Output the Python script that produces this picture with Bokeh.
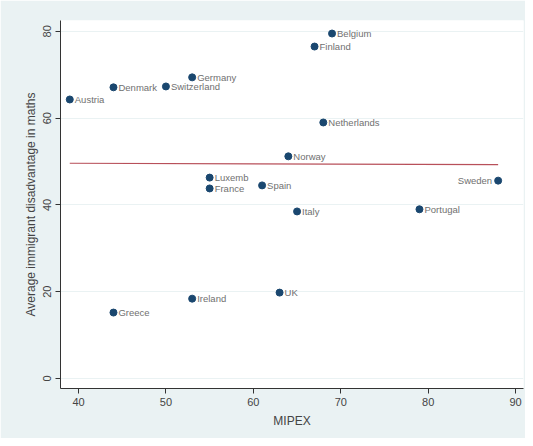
from bokeh.plotting import figure
from bokeh.models import ColumnDataSource, LabelSet, Range1d, FixedTicker
from bokeh.core.properties import value
from bokeh.embed import file_html
from bokeh.resources import INLINE

countries = ["Austria", "Denmark", "Switzerland", "Germany", "Luxemb", "France", "Spain",
             "Belgium", "Finland", "Netherlands", "Norway", "Sweden", "Italy", "Portugal",
             "UK", "Ireland", "Greece"]
mipex = [39, 44, 50, 53, 55, 55, 61, 69, 67, 68, 64, 88, 65, 79, 63, 53, 44]
disadv = [64.3, 67.1, 67.3, 69.4, 46.3, 43.8, 44.5, 79.5, 76.5, 59.0, 51.2, 45.6,
          38.5, 39.0, 19.8, 18.4, 15.2]
fit_x = [39, 88]
fit_y = [49.6, 49.3]
x_ticks = [40, 50, 60, 70, 80, 90]
y_ticks = [0, 20, 40, 60, 80]

BG = "#EAF2F3"
FONT = "Liberation Sans"

p = figure(width=525, height=438, output_backend="svg", toolbar_location=None,
           x_range=Range1d(37.94, 90.9), y_range=Range1d(-2.3, 82.5),
           min_border_left=60, min_border_right=2, min_border_top=20, min_border_bottom=50)
p.border_fill_color = BG
p.background_fill_color = "white"
p.outline_line_color = None

p.xgrid.visible = False
p.ygrid.grid_line_color = BG
p.ygrid.grid_line_width = 1
p.ygrid.ticker = FixedTicker(ticks=y_ticks)

p.xaxis.ticker = FixedTicker(ticks=x_ticks)
p.yaxis.ticker = FixedTicker(ticks=y_ticks)
for ax in (p.xaxis[0], p.yaxis[0]):
    ax.axis_line_color = "#333333"
    ax.axis_line_width = 1
    ax.major_tick_line_color = "#333333"
    ax.major_tick_out = 5
    ax.major_tick_in = 0
    ax.minor_tick_line_color = None
    ax.major_label_text_font = FONT
    ax.major_label_text_font_size = "11px"
    ax.major_label_text_color = "#444444"
    ax.major_label_standoff = 4
    ax.axis_label_text_font = FONT
    ax.axis_label_text_font_size = "12px"
    ax.axis_label_text_font_style = "normal"
    ax.axis_label_text_color = "#444444"

p.xaxis.axis_label = "MIPEX"
p.yaxis.axis_label = "Average immigrant disadvantage in maths"
p.yaxis.major_label_orientation = "vertical"
p.xaxis.axis_label_standoff = 5
p.yaxis.axis_label_standoff = 3

p.line(fit_x, fit_y, line_color="#B8505A", line_width=1.2)

src = ColumnDataSource(dict(x=mipex, y=disadv, name=countries))
p.scatter("x", "y", source=src, size=7, fill_color="#1A476F", line_color="#1A476F")

# labels to the right of the markers; the one at the right edge goes to the left
right_edge = max(mipex)
keep = [i for i, m in enumerate(mipex) if m < right_edge]
edge = [i for i, m in enumerate(mipex) if m >= right_edge]
src_r = ColumnDataSource(dict(x=[mipex[i] for i in keep], y=[disadv[i] for i in keep],
                              name=[countries[i] for i in keep]))
src_l = ColumnDataSource(dict(x=[mipex[i] for i in edge], y=[disadv[i] for i in edge],
                              name=[countries[i] for i in edge]))
lab_style = dict(text_baseline="middle", text_font=value(FONT), text_font_size="9.5px",
                 text_color="#707070")
p.add_layout(LabelSet(x="x", y="y", text="name", source=src_r, x_offset=5, y_offset=0,
                      text_align="left", **lab_style))
p.add_layout(LabelSet(x="x", y="y", text="name", source=src_l, x_offset=-6, y_offset=0,
                      text_align="right", **lab_style))

open("out.html", "w").write(file_html(p, INLINE))
